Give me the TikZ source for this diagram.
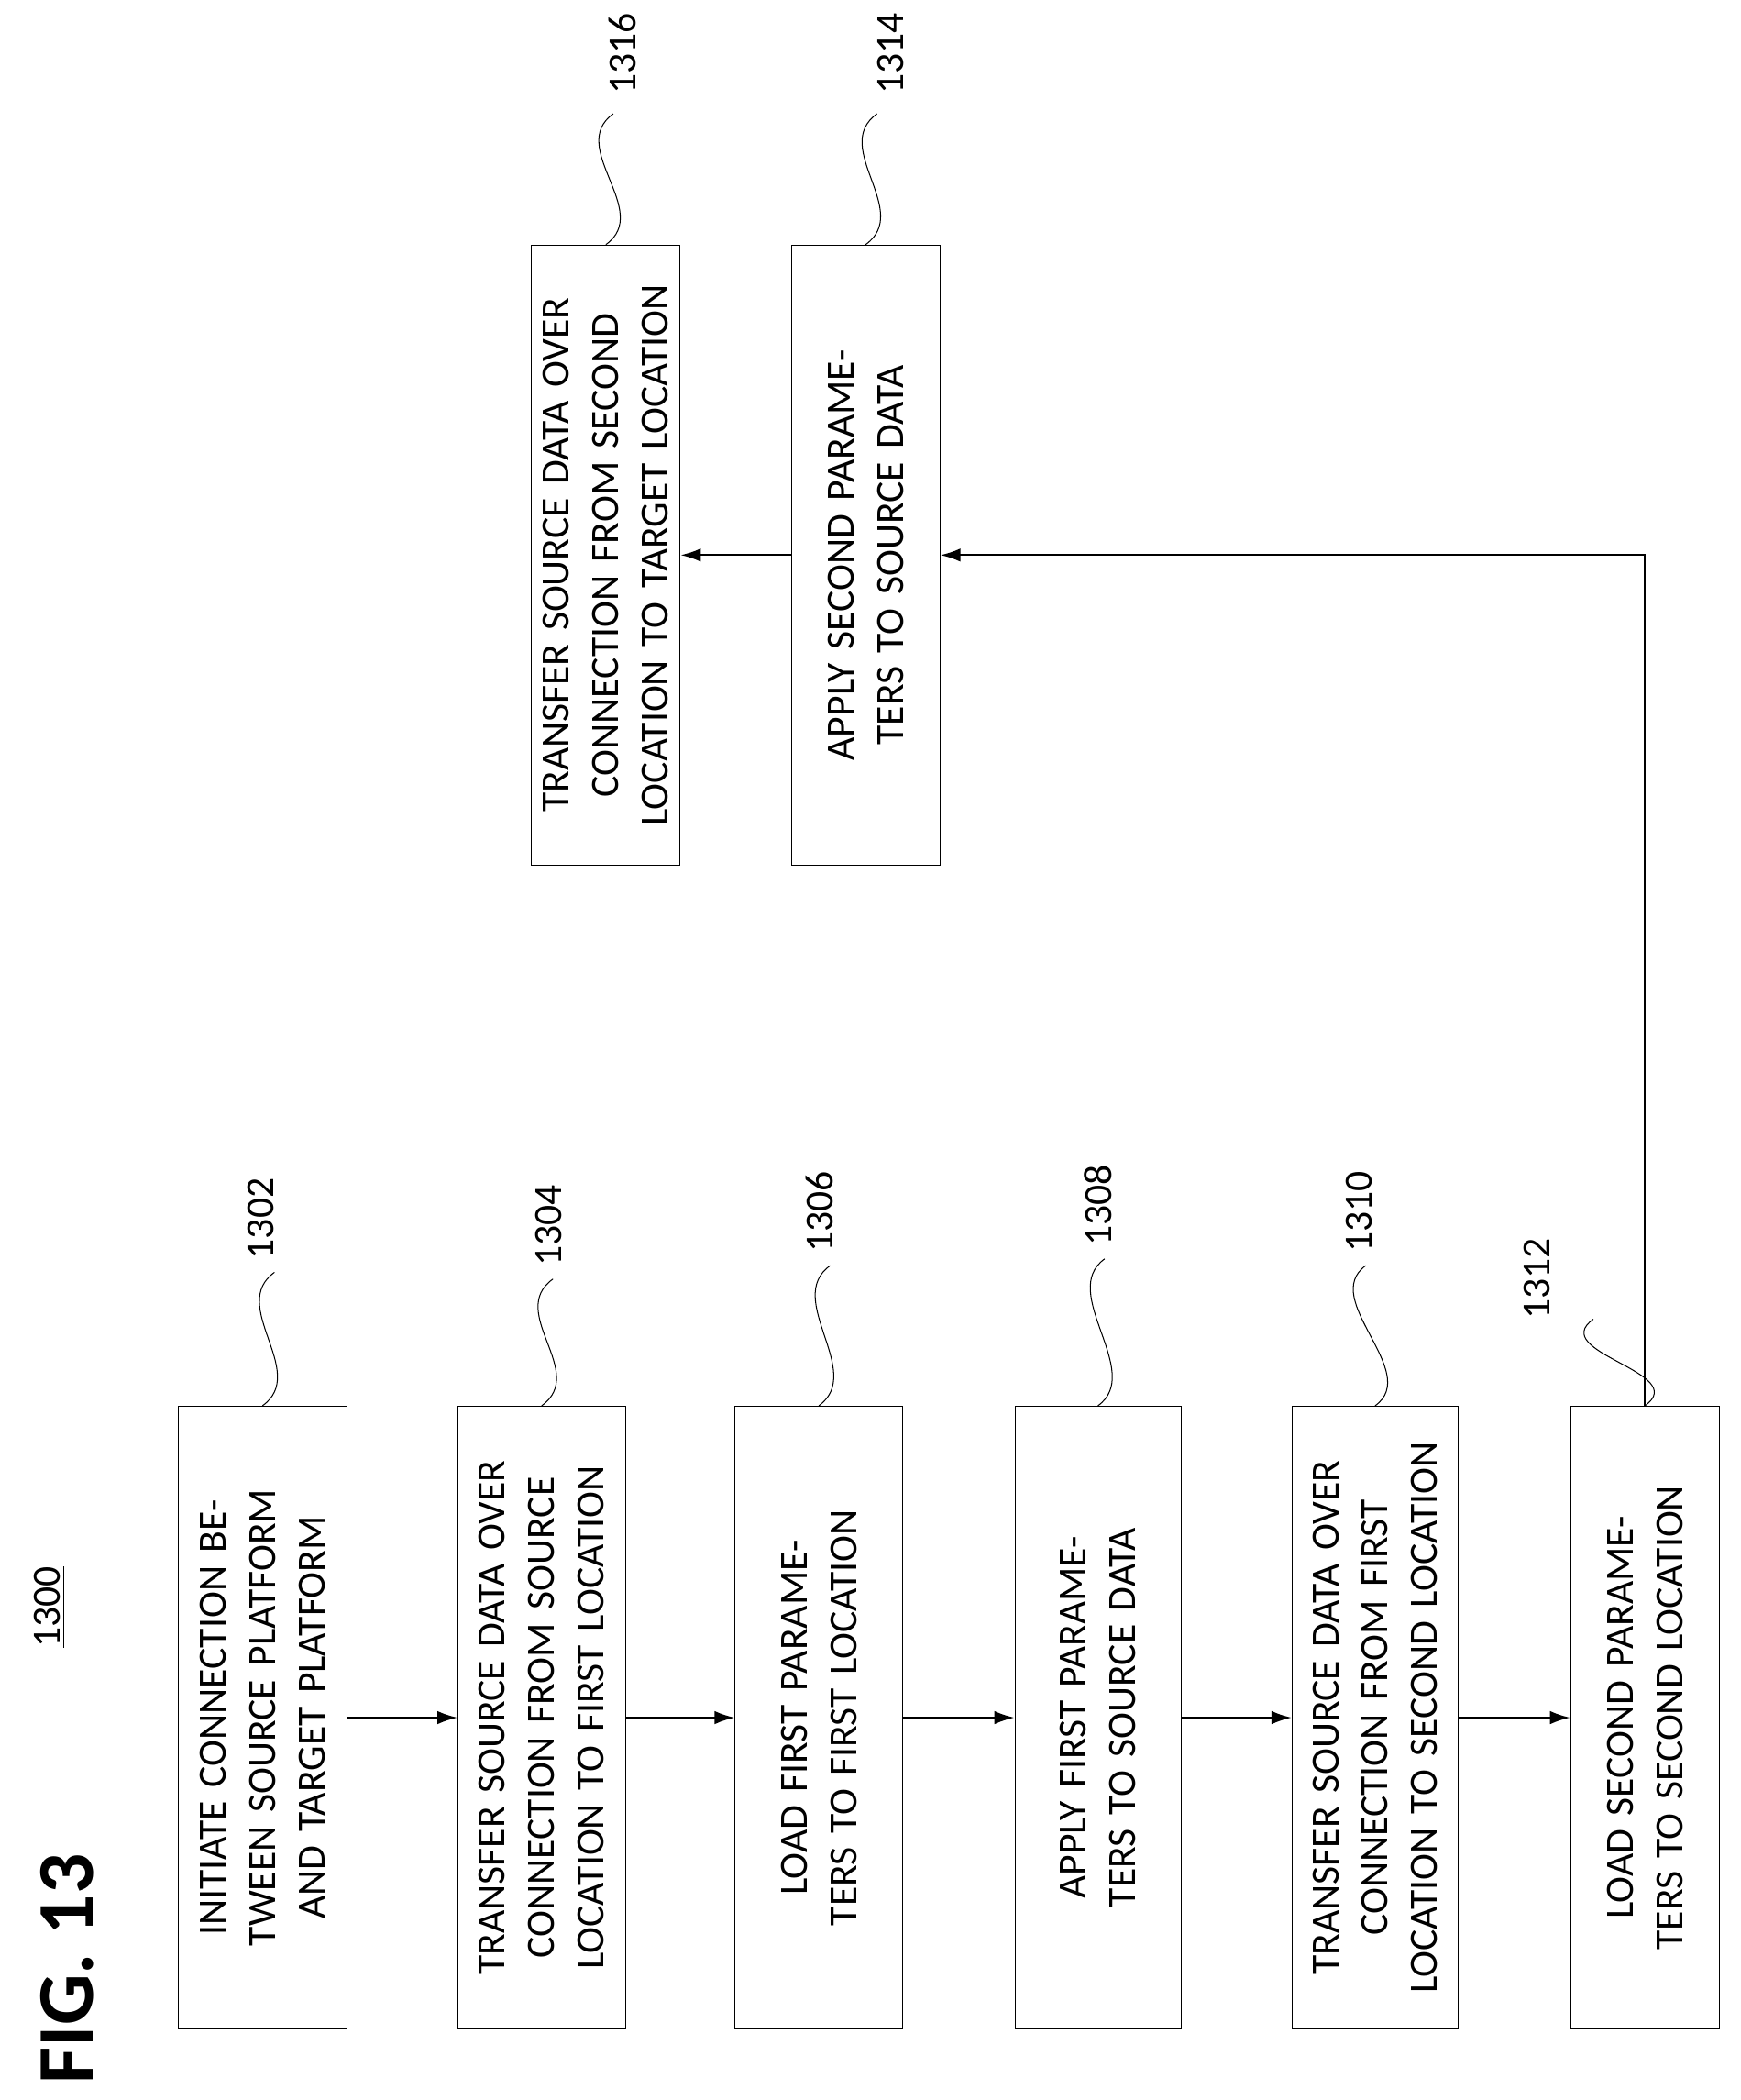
\documentclass[tikz,border=0pt]{standalone}
\usepackage{fontspec}
\setmainfont{Carlito}
\usetikzlibrary{arrows.meta}
\tikzset{>={Latex[length=3mm,width=2mm]}}
\tikzset{etape/.style={draw,thin,rotate=90,align=center,text width=8.4cm,minimum width=9.3cm,font=\fontsize{17}{21}\selectfont}}
\tikzset{fleche/.style={->,thick}}
\tikzset{repere/.style={rotate=90,font=\fontsize{17}{20}\selectfont}}
\tikzset{onde/.style={thin}}
\begin{document}
\begin{tikzpicture}
	\useasboundingbox (0,0) rectangle (26,31.36);
	% titre
	\node[rotate=90,font=\bfseries\fontsize{34}{40}\selectfont] (fig) at (1.0,1.96) {FIG. 13};
	\node[repere] (num) at (0.74,7.36) {\underline{1300}};
	% etapes
	\node[etape,minimum height=2.52cm] (e1302) at (3.92,5.71) {INITIATE CONNECTION BETWEEN SOURCE PLATFORM AND TARGET PLATFORM};
	\node[etape,minimum height=2.5cm] (e1304) at (8.09,5.71) {TRANSFER SOURCE DATA OVER CONNECTION FROM SOURCE LOCATION TO FIRST LOCATION};
	\node[etape,minimum height=2.5cm] (e1306) at (12.23,5.71) {LOAD FIRST PARAMETERS TO FIRST LOCATION};
	\node[etape,minimum height=2.48cm] (e1308) at (16.4,5.71) {APPLY FIRST PARAMETERS TO SOURCE DATA};
	\node[etape,minimum height=2.48cm] (e1310) at (20.54,5.71) {TRANSFER SOURCE DATA OVER CONNECTION FROM FIRST LOCATION TO SECOND LOCATION};
	\node[etape,minimum height=2.22cm] (e1312) at (24.57,5.71) {LOAD SECOND PARAMETERS TO SECOND LOCATION};
	\node[etape,minimum height=2.22cm,minimum width=9.26cm] (e1316) at (9.05,23.07) {TRANSFER SOURCE DATA OVER CONNECTION FROM SECOND LOCATION TO TARGET LOCATION};
	\node[etape,minimum height=2.22cm,minimum width=9.26cm] (e1314) at (12.93,23.07) {APPLY SECOND PARAMETERS TO SOURCE DATA};
	% fleches
	\draw[fleche] (e1302.south) -- (e1304.north);
	\draw[fleche] (e1304.south) -- (e1306.north);
	\draw[fleche] (e1306.south) -- (e1308.north);
	\draw[fleche] (e1308.south) -- (e1310.north);
	\draw[fleche] (e1310.south) -- (e1312.north);
	\draw[fleche] (e1312.east) |- (e1314.south);
	\draw[fleche] (e1314.north) -- (e1316.south);
	% reperes
	\node[repere] (r1302) at (3.9,13.16) {1302};
	\node[repere] (r1304) at (8.2,13.06) {1304};
	\node[repere] (r1306) at (12.24,13.26) {1306};
	\node[repere] (r1308) at (16.4,13.36) {1308};
	\node[repere] (r1310) at (20.3,13.26) {1310};
	\node[repere] (r1312) at (22.96,12.26) {1312};
	\node[repere] (r1316) at (9.3,30.56) {1316};
	\node[repere] (r1314) at (13.3,30.56) {1314};
	\coordinate (c1302) at (4.1,12.36);
	\coordinate (c1304) at (8.26,12.26);
	\coordinate (c1306) at (12.4,12.46);
	\coordinate (c1308) at (16.5,12.56);
	\coordinate (c1310) at (20.4,12.46);
	\coordinate (c1312) at (23.8,11.66);
	\coordinate (c1316) at (9.16,29.66);
	\coordinate (c1314) at (13.1,29.66);
	\foreach \n in {1302,1304,1306,1308,1310,1312,1316,1314}
		\draw[onde] (e\n.east) .. controls +(0.7,0.5) and +(-0.7,-0.5) .. (c\n);
\end{tikzpicture}
\end{document}
